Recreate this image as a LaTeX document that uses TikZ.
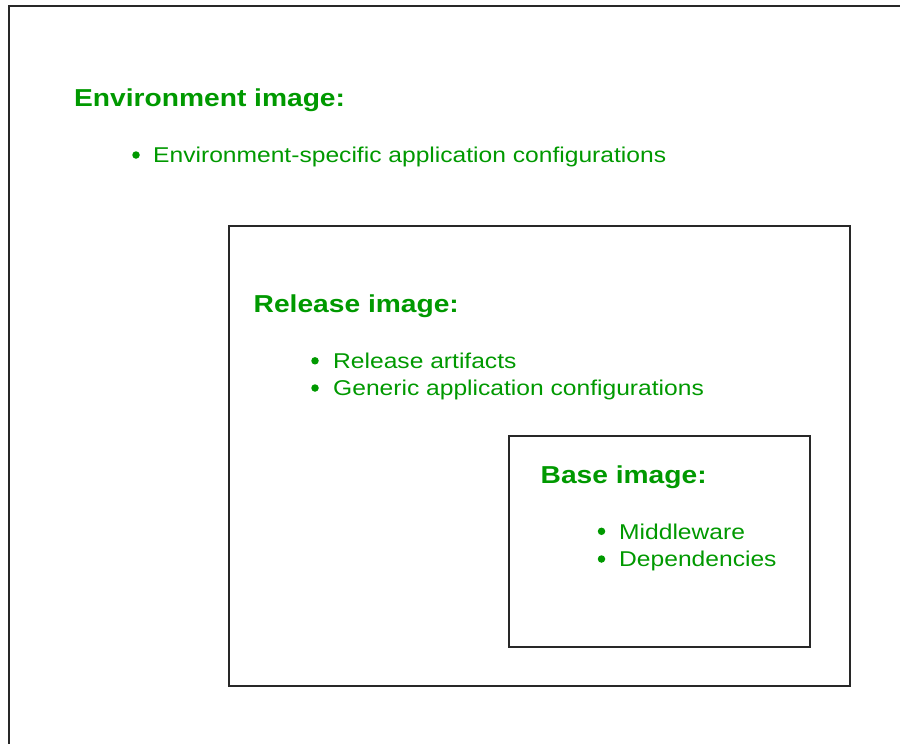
\documentclass[tikz,border=0pt]{standalone}
\usepackage{fontspec}
\setmainfont{Liberation Sans}[FakeStretch=1.15]
\definecolor{txtgreen}{RGB}{0,153,0}
\definecolor{boxline}{RGB}{40,40,40}
\tikzset{
  boxframe/.style={draw=boxline, line width=2.2pt},
  heading/.style={anchor=base west, inner sep=0pt, text=txtgreen, font=\fontsize{24.5}{28}\selectfont\bfseries},
  item/.style={anchor=base west, inner sep=0pt, text=txtgreen, font=\fontsize{21.4}{25}\selectfont},
  dot/.style={circle, fill=txtgreen, inner sep=0pt, minimum size=7.5pt}
}
\begin{document}
\begin{tikzpicture}[x=1pt,y=-1pt]
\useasboundingbox (0,0) rectangle (900,744);
\clip (0,0) rectangle (900,744);
\fill[white] (0,0) rectangle (900,744);
% frames
\draw[boxframe] (9,6) rectangle (910,760);
\draw[boxframe] (229,226) rectangle (850,686);
\draw[boxframe] (509,436) rectangle (810,647);
% environment
\node[heading] (envh) at (74,106) {Environment image:};
\node[item] (env1) at (153,162.7) {Environment-specific application configurations};
\node[dot] (envd1) at (136,155) {};
% release
\node[heading] (relh) at (253.5,312) {Release image:};
\node[item] (rel1) at (333,368.5) {Release artifacts};
\node[dot] (reld1) at (315,360.8) {};
\node[item] (rel2) at (333,395.7) {Generic application configurations};
\node[dot] (reld2) at (315,388) {};
% base
\node[heading] (baseh) at (540.5,483) {Base image:};
\node[item] (base1) at (619,539) {Middleware};
\node[dot] (based1) at (601.5,531.3) {};
\node[item] (base2) at (619,566.7) {Dependencies};
\node[dot] (based2) at (601.5,559) {};
\end{tikzpicture}
\end{document}
